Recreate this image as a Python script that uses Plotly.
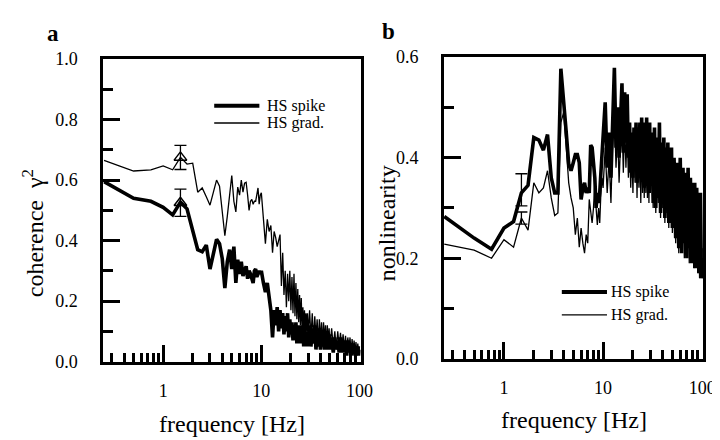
import plotly.graph_objects as go

# ---------------- data ----------------
freq = [0.25, 0.5, 0.75, 1, 1.25, 1.5, 1.75, 2, 2.25, 2.5, 2.75, 3, 3.25, 3.5, 3.75, 4,
        4.25, 4.5, 4.75, 5, 5.25, 5.5, 5.75, 6, 6.25, 6.5, 6.75, 7, 7.25, 7.5, 7.75, 8,
        8.25, 8.5, 8.75, 9, 9.25, 9.5, 9.75, 10,
        10.5, 11, 11.5, 12, 12.5, 13, 13.5, 14, 14.5, 15, 15.5, 16, 16.5, 17, 17.5, 18,
        18.5, 19, 19.5, 20, 20.5, 21, 21.5, 22, 22.5, 23, 23.5, 24, 24.5, 25, 25.5, 26,
        26.5, 27, 27.5, 28, 28.5, 29, 29.5, 30,
        31, 32, 33, 34, 35, 36, 37, 38, 39, 40, 41, 42, 43, 44, 45, 46, 47, 48, 49, 50,
        52, 54, 56, 58, 60, 62, 64, 66, 68, 70, 72, 74, 76, 78, 80, 82, 84, 86, 88, 90,
        92, 94, 96, 98, 100]

coh_spike = [0.595, 0.54, 0.53, 0.51, 0.485, 0.527, 0.505, 0.43, 0.37, 0.363, 0.385, 0.306,
             0.357, 0.404, 0.39, 0.34, 0.243, 0.33, 0.37, 0.306, 0.38, 0.26, 0.337, 0.29,
             0.33, 0.283, 0.30, 0.315, 0.274, 0.30, 0.29, 0.27, 0.26, 0.30, 0.306, 0.28,
             0.29, 0.30, 0.29, 0.30,
             0.26, 0.23, 0.26, 0.20, 0.17, 0.08, 0.17, 0.12, 0.18, 0.10, 0.17, 0.11, 0.16,
             0.09, 0.15, 0.10, 0.16, 0.08, 0.14, 0.09, 0.13, 0.07, 0.12, 0.08, 0.13, 0.06,
             0.11, 0.07, 0.12, 0.06, 0.12, 0.06, 0.11, 0.05, 0.12, 0.06, 0.10, 0.05, 0.10, 0.05,
             0.12, 0.05, 0.11, 0.06, 0.12, 0.04, 0.10, 0.05, 0.11, 0.04, 0.10, 0.05, 0.09,
             0.04, 0.10, 0.04, 0.09, 0.05, 0.09, 0.04,
             0.08, 0.03, 0.08, 0.04, 0.07, 0.03, 0.08, 0.03, 0.07, 0.03, 0.06, 0.02, 0.07,
             0.03, 0.06, 0.02, 0.06, 0.03, 0.05, 0.02, 0.05, 0.02, 0.05, 0.02, 0.04]

coh_grad = [0.665, 0.63, 0.634, 0.647, 0.634, 0.675, 0.653, 0.656, 0.56, 0.574, 0.545, 0.517,
            0.56, 0.60, 0.58, 0.50, 0.416, 0.48, 0.56, 0.615, 0.53, 0.495, 0.577, 0.55,
            0.60, 0.56, 0.59, 0.593, 0.55, 0.50, 0.53, 0.536, 0.52, 0.53, 0.53, 0.56,
            0.574, 0.52, 0.55, 0.558,
            0.48, 0.39, 0.47, 0.43, 0.45, 0.36, 0.43, 0.41, 0.38, 0.40, 0.42, 0.25, 0.36,
            0.22, 0.30, 0.18, 0.29, 0.20, 0.30, 0.17, 0.28, 0.16, 0.29, 0.15, 0.26, 0.14,
            0.24, 0.13, 0.22, 0.12, 0.21, 0.11, 0.18, 0.10, 0.17, 0.11, 0.16, 0.10, 0.16, 0.09,
            0.17, 0.08, 0.16, 0.07, 0.15, 0.08, 0.14, 0.06, 0.14, 0.07, 0.13, 0.06, 0.13,
            0.07, 0.12, 0.05, 0.12, 0.06, 0.11, 0.05,
            0.11, 0.05, 0.10, 0.04, 0.10, 0.05, 0.095, 0.04, 0.09, 0.04, 0.085, 0.03, 0.08,
            0.04, 0.08, 0.03, 0.075, 0.03, 0.07, 0.03, 0.065, 0.02, 0.06, 0.03, 0.05]

nl_spike = [0.283, 0.24, 0.218, 0.26, 0.273, 0.33, 0.345, 0.44, 0.435, 0.415, 0.446, 0.36,
            0.33, 0.33, 0.577, 0.52, 0.45, 0.387, 0.374, 0.39, 0.406, 0.406, 0.39, 0.317,
            0.34, 0.35, 0.33, 0.34, 0.33, 0.425, 0.42, 0.39, 0.36, 0.30, 0.33, 0.31,
            0.33, 0.37, 0.41, 0.43,
            0.51, 0.38, 0.45, 0.36, 0.48, 0.579, 0.42, 0.50, 0.40, 0.46, 0.548, 0.41, 0.53,
            0.43, 0.526, 0.40, 0.47, 0.37, 0.45, 0.36, 0.46, 0.38, 0.47, 0.35, 0.46, 0.37,
            0.47, 0.36, 0.48, 0.37, 0.47, 0.34, 0.46, 0.36, 0.48, 0.35, 0.46, 0.33, 0.47, 0.35,
            0.45, 0.31, 0.46, 0.30, 0.44, 0.32, 0.47, 0.29, 0.43, 0.31, 0.44, 0.28, 0.42,
            0.30, 0.43, 0.27, 0.41, 0.29, 0.42, 0.26,
            0.40, 0.24, 0.39, 0.22, 0.40, 0.21, 0.38, 0.23, 0.37, 0.20, 0.38, 0.22, 0.36,
            0.19, 0.35, 0.21, 0.35, 0.18, 0.34, 0.19, 0.33, 0.17, 0.33, 0.16, 0.20]

nl_grad = [0.228, 0.216, 0.20, 0.237, 0.222, 0.28, 0.256, 0.35, 0.33, 0.34, 0.374, 0.32,
           0.285, 0.29, 0.47, 0.49, 0.42, 0.35, 0.32, 0.30, 0.247, 0.28, 0.222, 0.26,
           0.23, 0.21, 0.247, 0.23, 0.317, 0.29, 0.27, 0.30, 0.35, 0.30, 0.266, 0.30,
           0.27, 0.33, 0.36, 0.34,
           0.42, 0.33, 0.40, 0.31, 0.44, 0.50, 0.38, 0.46, 0.35, 0.43, 0.48, 0.37, 0.47,
           0.38, 0.46, 0.36, 0.44, 0.34, 0.42, 0.33, 0.43, 0.35, 0.44, 0.32, 0.43, 0.34,
           0.44, 0.31, 0.45, 0.33, 0.44, 0.32, 0.43, 0.33, 0.45, 0.32, 0.43, 0.31, 0.44, 0.33,
           0.43, 0.30, 0.44, 0.29, 0.42, 0.31, 0.43, 0.28, 0.41, 0.30, 0.42, 0.27, 0.40,
           0.29, 0.41, 0.26, 0.39, 0.28, 0.40, 0.25,
           0.38, 0.23, 0.37, 0.21, 0.38, 0.22, 0.36, 0.20, 0.36, 0.21, 0.35, 0.19, 0.34,
           0.20, 0.33, 0.18, 0.33, 0.19, 0.32, 0.17, 0.31, 0.16, 0.31, 0.17, 0.22]

# error bars at 1.5 Hz
err_freq = [1.5]
coh_err_spike = [0.525]; coh_err_spike_sd = [0.045]
coh_err_grad = [0.675]; coh_err_grad_sd = [0.04]
nl_err_spike = [0.336]; nl_err_spike_sd = [0.032]
nl_err_grad = [0.28]; nl_err_grad_sd = [0.012]

x_tickvals = [1, 10, 100]
x_ticktext = ["1", "10", "100"]
x_minor = [0.3, 0.4, 0.5, 0.6, 0.7, 0.8, 0.9, 2, 3, 4, 5, 6, 7, 8, 9,
           20, 30, 40, 50, 60, 70, 80, 90]
ya_tickvals = [0, 0.2, 0.4, 0.6, 0.8, 1.0]
ya_ticktext = ["0.0", "0.2", "0.4", "0.6", "0.8", "1.0"]
ya_minor = [0.1, 0.3, 0.5, 0.7, 0.9]
yb_tickvals = [0, 0.2, 0.4, 0.6]
yb_ticktext = ["0.0", "0.2", "0.4", "0.6"]
yb_minor = [0.1, 0.3, 0.5]

# ---------------- figure ----------------
FONT = "Liberation Serif"
W, H = 720, 440
THICK, THIN = 3.6, 1.3

fig = go.Figure()
fig.add_trace(go.Scatter(x=freq, y=coh_grad, mode="lines", line=dict(color="black", width=THIN),
                         xaxis="x", yaxis="y", name="HS grad."))
fig.add_trace(go.Scatter(x=freq, y=coh_spike, mode="lines", line=dict(color="black", width=THICK),
                         xaxis="x", yaxis="y", name="HS spike"))
fig.add_trace(go.Scatter(x=freq, y=nl_grad, mode="lines", line=dict(color="black", width=THIN),
                         xaxis="x2", yaxis="y2", name="HS grad."))
fig.add_trace(go.Scatter(x=freq, y=nl_spike, mode="lines", line=dict(color="black", width=THICK),
                         xaxis="x2", yaxis="y2", name="HS spike"))

for yv, sd in ((coh_err_grad, coh_err_grad_sd), (coh_err_spike, coh_err_spike_sd)):
    fig.add_trace(go.Scatter(x=err_freq, y=yv, mode="markers",
                             marker=dict(symbol="triangle-up-open", size=11, color="black",
                                         line=dict(width=1.5, color="black")),
                             error_y=dict(type="data", array=sd, visible=True, color="black",
                                          thickness=1.3, width=6),
                             xaxis="x", yaxis="y"))
for yv, sd in ((nl_err_grad, nl_err_grad_sd), (nl_err_spike, nl_err_spike_sd)):
    fig.add_trace(go.Scatter(x=err_freq, y=yv, mode="markers",
                             marker=dict(size=1, color="black"),
                             error_y=dict(type="data", array=sd, visible=True, color="black",
                                          thickness=1.3, width=6),
                             xaxis="x2", yaxis="y2"))


def xaxis(domain, rng):
    return dict(type="log", domain=domain, range=rng, tickvals=x_tickvals, ticktext=x_ticktext,
                ticks="inside", ticklen=17, tickwidth=3, tickcolor="black",
                minor=dict(tickvals=x_minor, ticks="inside", ticklen=9, tickwidth=3,
                           tickcolor="black", showgrid=False),
                showline=True, linewidth=3, linecolor="black", mirror=True,
                showgrid=False, zeroline=False, ticklabelstandoff=11,
                tickfont=dict(family=FONT, size=18, color="black"))


def yaxis(domain, rng, tv, tt, mn, anchor):
    return dict(domain=domain, range=rng, tickvals=tv, ticktext=tt, anchor=anchor,
                ticks="inside", ticklen=17, tickwidth=3, tickcolor="black",
                minor=dict(tickvals=mn, ticks="inside", ticklen=10, tickwidth=3,
                           tickcolor="black", showgrid=False),
                showline=True, linewidth=3, linecolor="black", mirror=True,
                showgrid=False, zeroline=False, ticklabelstandoff=19,
                tickfont=dict(family=FONT, size=18, color="black"))


def px(x):
    return x / W


def py(y):
    return 1 - y / H


fig.update_layout(
    width=W, height=H, margin=dict(l=0, r=0, t=0, b=0),
    paper_bgcolor="white", plot_bgcolor="white", showlegend=False,
    font=dict(family=FONT, color="black"),
    xaxis=xaxis([px(97), px(359)], [-0.61, 2.01]) | dict(anchor="y"),
    yaxis=yaxis([py(360), py(43)], [0, 1.0], ya_tickvals, ya_ticktext, ya_minor, "x"),
    xaxis2=xaxis([px(444), px(708)], [-0.605, 2.01]) | dict(anchor="y2"),
    yaxis2=yaxis([py(357), py(41)], [0, 0.6], yb_tickvals, yb_ticktext, yb_minor, "x2"),
)

# legends (drawn manually to match the original figure)
shapes = []
annotations = []
for (x0, x1, ys, yg, xt) in ((210, 256, 92, 110, 263), (564, 610, 287, 311, 613)):
    shapes.append(dict(type="line", xref="paper", yref="paper", x0=px(x0), x1=px(x1),
                       y0=py(ys), y1=py(ys), line=dict(color="black", width=4)))
    shapes.append(dict(type="line", xref="paper", yref="paper", x0=px(x0), x1=px(x1),
                       y0=py(yg), y1=py(yg), line=dict(color="black", width=1.3)))
    annotations.append(dict(x=px(xt), y=py(ys), xref="paper", yref="paper", text="HS spike",
                            showarrow=False, xanchor="left", yanchor="middle", borderpad=0,
                            font=dict(family=FONT, size=16, color="black")))
    annotations.append(dict(x=px(xt), y=py(yg), xref="paper", yref="paper", text="HS grad.",
                            showarrow=False, xanchor="left", yanchor="middle", borderpad=0,
                            font=dict(family=FONT, size=16, color="black")))

# axis titles and panel letters
annotations += [
    dict(x=px(228), y=py(425), text="frequency [Hz]"),
    dict(x=px(576), y=py(421), text="frequency [Hz]"),
    dict(x=px(25), y=py(226), text="coherence  γ<sup>2</sup>", textangle=-90),
    dict(x=px(386), y=py(215), text="nonlinearity", textangle=-90),
]
for a in annotations[-4:]:
    a.update(xref="paper", yref="paper", showarrow=False, xanchor="center", yanchor="middle",
             font=dict(family=FONT, size=24, color="black"))
annotations += [
    dict(x=px(46), y=py(16), text="<b>a</b>", xref="paper", yref="paper", showarrow=False,
         xanchor="center", yanchor="middle", font=dict(family=FONT, size=23, color="black")),
    dict(x=px(388), y=py(14), text="<b>b</b>", xref="paper", yref="paper", showarrow=False,
         xanchor="center", yanchor="middle", font=dict(family=FONT, size=23, color="black")),
]
fig.update_layout(shapes=shapes, annotations=annotations)

fig.write_html("out.html")
